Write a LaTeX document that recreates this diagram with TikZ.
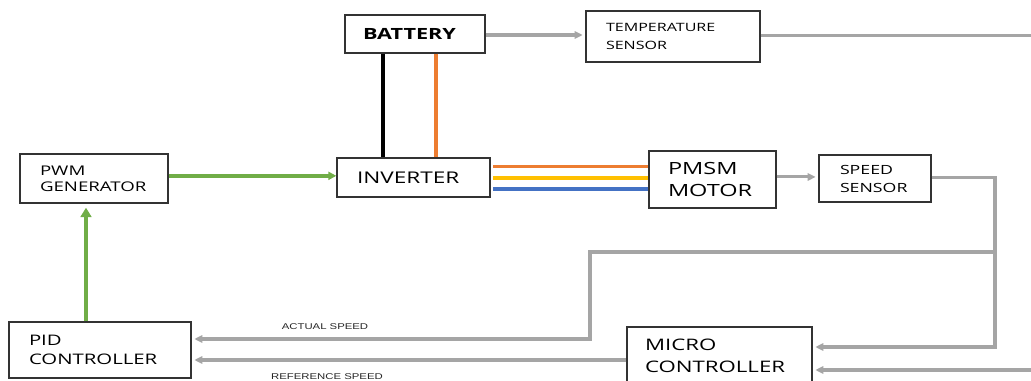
\documentclass[tikz,border=0pt]{standalone}
\usepackage{fontspec}
\setmainfont[FakeStretch=1.4]{Open Sans}
\newfontfamily\lblfont[FakeStretch=1.35]{Liberation Sans}
\usetikzlibrary{arrows.meta}
\definecolor{lgray}{HTML}{A5A5A5}
\definecolor{pgreen}{HTML}{70AD47}
\definecolor{porange}{HTML}{ED7D31}
\definecolor{pyellow}{HTML}{FFC000}
\definecolor{pblue}{HTML}{4472C4}

\begin{document}
\begin{tikzpicture}[x=0.75pt,y=-0.75pt,
  blk/.style={draw=black!80,line width=1pt,rectangle,inner ysep=0pt,inner xsep=15pt,align=left},
  wire/.style={lgray,line width=2.3pt},
  sig/.style={wire,-{Triangle[length=6pt,width=5.5pt]},shorten >=2pt},
  pwr/.style={line width=3pt},
  phase/.style={line width=2.3pt},
  lbl/.style={font=\lblfont\fontsize{6.3}{7}\selectfont,text=black!85}]
\useasboundingbox (0,0) rectangle (1031,381);
% blocks
\node[blk,minimum width=105pt,minimum height=28.5pt,text width=78pt,inner xsep=13.5pt,font=\bfseries\fontsize{11.6}{13}\selectfont] (bat) at (415,34) {BATTERY};
\node[blk,minimum width=130.5pt,minimum height=38.25pt,text width=100.5pt,font=\fontsize{8.6}{14}\selectfont] (temp) at (673,36.5) {TEMPERATURE\\SENSOR};
\node[blk,minimum width=114.75pt,minimum height=29.25pt,text width=84.75pt,font=\fontsize{12.1}{13}\selectfont] (inv) at (413.5,177.5) {INVERTER};
\node[blk,minimum width=111pt,minimum height=36.75pt,text width=81pt,font=\fontsize{10}{12}\selectfont] (pwm) at (94,178.5) {PWM\\GENERATOR};
\node[blk,minimum width=95.25pt,minimum height=42.75pt,text width=66.75pt,inner xsep=14.25pt,font=\fontsize{12.6}{17}\selectfont] (pmsm) at (712.5,179.5) {PMSM\\MOTOR};
\node[blk,minimum width=84pt,minimum height=35.25pt,text width=52.5pt,inner xsep=15.75pt,font=\fontsize{9.5}{13.5}\selectfont] (spd) at (875,178.5) {SPEED\\SENSOR};
\node[blk,minimum width=136.5pt,minimum height=42pt,text width=106.5pt,font=\fontsize{10.9}{14.5}\selectfont] (pid) at (100,350) {PID\\CONTROLLER};
\node[blk,minimum width=138.75pt,minimum height=43.5pt,text width=111.75pt,inner xsep=13.5pt,font=\fontsize{11.9}{16.5}\selectfont] (mcu) at (719.5,356) {MICRO\\CONTROLLER};
% free ends and bends
\coordinate (tempout) at (1031,35);
\coordinate (fbcorner) at (995,347);
\coordinate (tap) at (995,252);
\coordinate (bend) at (590,339);
\coordinate (refin) at (1031,370);
% battery and temperature
\draw[sig] ([yshift=-0.75pt]bat.east) -- ([yshift=-0.75pt]bat.east -| temp.west);
\draw[wire] ([yshift=1pt]temp.east) -- ([yshift=1pt]temp.east -| tempout);
\draw[pwr,black] ([xshift=-24pt]bat.south) -- ([xshift=-24pt]bat.south |- inv.north);
\draw[pwr,porange] ([xshift=15.75pt]bat.south) -- ([xshift=15.75pt]bat.south |- inv.north);
% drive path
\draw[pgreen,line width=2.6pt,-{Triangle[length=6pt,width=6pt]}] ([yshift=2pt]pwm.east) -- ([yshift=2pt]pwm.east -| inv.west);
\draw[pgreen,line width=2.6pt,-{Triangle[length=7pt,width=8pt]},shorten >=3pt] ([xshift=-10.5pt]pid.north) -- ([xshift=-10.5pt]pid.north |- pwm.south);
\draw[phase,porange] ([xshift=2pt,yshift=7.9pt]inv.east) -- ([yshift=7.9pt]inv.east -| pmsm.west);
\draw[phase,pyellow] ([xshift=2pt,yshift=-0.4pt]inv.east) -- ([yshift=-0.4pt]inv.east -| pmsm.west);
\draw[phase,pblue] ([xshift=2pt,yshift=-8.6pt]inv.east) -- ([yshift=-8.6pt]inv.east -| pmsm.west);
\draw[sig] ([yshift=1.9pt]pmsm.east) -- ([yshift=1.9pt]pmsm.east -| spd.west);
% feedback
\draw[sig] ([yshift=1pt]spd.east) -| (fbcorner) -- (fbcorner -| mcu.east);
\draw[sig] (tap) -| (bend) -- (bend -| pid.east);
\draw[sig] ([yshift=-3pt]mcu.west) -- ([yshift=-3pt]mcu.west -| pid.east);
\draw[sig] (refin) -- (refin -| mcu.east);
\node[lbl] (act) at (325,327) {ACTUAL SPEED};
\node[lbl] (ref) at (327,377) {REFERENCE SPEED};
\end{tikzpicture}
\end{document}
